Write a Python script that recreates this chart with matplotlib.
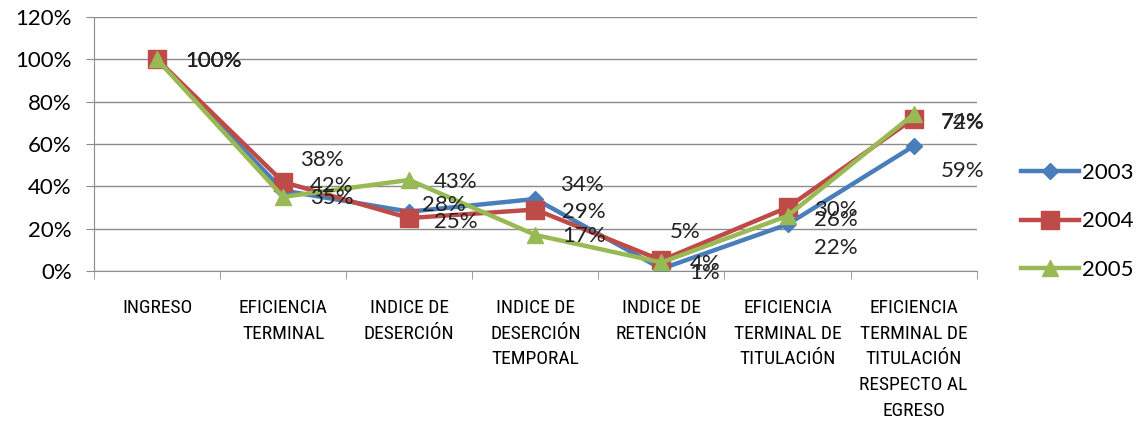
import numpy as np
import matplotlib
matplotlib.use('Agg')
import matplotlib.pyplot as plt

# data
categories = ['INGRESO', 'EFICIENCIA\nTERMINAL', 'INDICE DE\nDESERCIÓN',
              'INDICE DE\nDESERCIÓN\nTEMPORAL', 'INDICE DE\nRETENCIÓN',
              'EFICIENCIA\nTERMINAL DE\nTITULACIÓN',
              'EFICIENCIA\nTERMINAL DE\nTITULACIÓN\nRESPECTO AL\nEGRESO']
years = ['2003', '2004', '2005']
v2003 = [100, 38, 28, 34, 1, 22, 59]
v2004 = [100, 42, 25, 29, 5, 30, 72]
v2005 = [100, 35, 43, 17, 4, 26, 74]
yticks = [0, 20, 40, 60, 80, 100, 120]

colors = ['#4A7EBB', '#BE4B48', '#98B954']
markers = ['D', 's', '^']
msizes = [8, 13, 12]

# data label offsets in pixels (dx, dy; dy positive = down), as placed in the original
offsets = [
    [(28, 2), (17, -31), (13, -7), (25, -14), (28, 4), (26, 24), (27, 25)],
    [(28, 2), (27, 4), (25, 4), (27, 2), (8, -28), (26, 3), (27, 4)],
    [(28, 2), (27, 1), (25, 2), (27, 1), (28, 2), (26, 4), (27, 8)],
]

LABEL_FONT = ['Lato', 'DejaVu Sans']
CAT_FONT = ['Liberation Sans Narrow', 'DejaVu Sans Condensed', 'Roboto Condensed',
            'DejaVu Sans']

fig = plt.figure(figsize=(11.39, 4.24), dpi=100)
ax = fig.add_axes([0.0825, 0.361, 0.775, 0.599])

x = np.arange(len(categories))
series = [v2003, v2004, v2005]
for vals, col, mk, ms, lab in zip(series, colors, markers, msizes, years):
    ax.plot(x, vals, color=col, lw=3.2, marker=mk, markersize=ms,
            markeredgecolor=col, label=lab, zorder=3)

for vals, offs in zip(series, offsets):
    for xi, v, (dx, dy) in zip(x, vals, offs):
        ax.annotate(f'{v}%', (xi, v), xytext=(dx, -dy), textcoords='offset pixels',
                    ha='left', va='center', fontsize=16, family=LABEL_FONT,
                    color='#222222', zorder=4)

ax.set_xlim(-0.5, len(categories) - 0.5)
ax.set_ylim(0, 120)
ax.set_yticks(yticks)
ax.set_yticklabels([f'{t}%' for t in yticks], family=LABEL_FONT, fontsize=16)
ax.yaxis.grid(True, color='#8C8C8C', lw=1)
ax.set_axisbelow(True)
ax.tick_params(axis='y', length=6, color='#8C8C8C', pad=10)

ax.set_xticks(x)
ax.set_xticklabels(categories, family=CAT_FONT, fontsize=14, linespacing=1.56,
                   va='top', fontstretch='condensed')
ax.tick_params(axis='x', length=0, pad=20)
ax.set_xticks(np.arange(len(categories) + 1) - 0.5, minor=True)
ax.tick_params(axis='x', which='minor', length=6, color='#8C8C8C')

for s in ['top', 'right']:
    ax.spines[s].set_visible(False)
for s in ['left', 'bottom']:
    ax.spines[s].set_color('#8C8C8C')

leg = fig.legend(loc='center left', bbox_to_anchor=(0.879, 0.478), frameon=False,
                 prop={'family': LABEL_FONT, 'size': 16}, handlelength=2.6,
                 labelspacing=1.27, handletextpad=0.15)

fig.savefig('out.png', dpi=100)
